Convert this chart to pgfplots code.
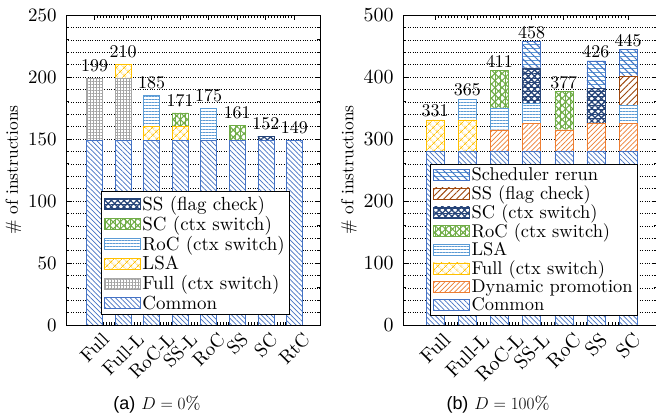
\documentclass[border=0pt]{standalone}
\usepackage{fontspec}
\usepackage{graphicx}
\usepackage{pgfplots}
\usepackage{pgfplotstable}
\pgfplotsset{compat=1.18}
\usetikzlibrary{patterns.meta}
\setmainfont{lmroman10-regular.otf}[ItalicFont=lmroman10-italic.otf, BoldFont=lmroman10-bold.otf]
\newfontfamily\capsf{Liberation Sans}

\definecolor{cblue}{RGB}{68,114,196}
\definecolor{corange}{RGB}{237,125,49}
\definecolor{cyellow}{RGB}{255,192,0}
\definecolor{cgray}{RGB}{165,165,165}
\definecolor{clblue}{RGB}{91,155,213}
\definecolor{cgreen}{RGB}{112,173,71}
\definecolor{cnavy}{RGB}{38,68,120}
\definecolor{cbrown}{RGB}{158,72,14}

\tikzset{
  pcom/.style={draw=cblue, fill=white, postaction={pattern={Lines[angle=-45,distance=3.5bp,line width=0.7bp]}, pattern color=cblue}},
  pdyn/.style={draw=corange, fill=white, postaction={pattern={Lines[angle=45,distance=3.5bp,line width=0.7bp]}, pattern color=corange}},
  pgrid/.style={draw=cgray, fill=white, postaction={pattern={Hatch[angle=0,distance=3bp,line width=0.5bp]}, pattern color=cgray}},
  pyel/.style={draw=cyellow, fill=white, postaction={pattern={Hatch[angle=45,distance=6bp,line width=1bp]}, pattern color=cyellow}},
  phor/.style={draw=clblue, fill=white, postaction={pattern={Lines[angle=0,distance=3bp,line width=0.8bp]}, pattern color=clblue}},
  pgreen/.style={draw=cgreen, fill=white, postaction={pattern={Hatch[angle=45,distance=5bp,line width=1.1bp]}, pattern color=cgreen}, postaction={pattern={Lines[angle=90,distance=5bp,line width=0.8bp]}, pattern color=cgreen}},
  pnavy/.style={draw=cnavy, fill=white, postaction={pattern={Hatch[angle=45,distance=4.5bp,line width=1.3bp]}, pattern color=cnavy}, postaction={pattern={Lines[angle=0,distance=4.5bp,line width=0.8bp]}, pattern color=cnavy}},
  pbrown/.style={draw=cbrown, fill=white, postaction={pattern={Lines[angle=45,distance=4.5bp,line width=0.9bp]}, pattern color=cbrown}},
  psched/.style={draw=cblue, fill=white, postaction={pattern={Lines[angle=0,distance=4bp,line width=0.8bp]}, pattern color=clblue}, postaction={pattern={Lines[angle=-45,distance=5bp,line width=1bp]}, pattern color=cblue}},
}

\pgfplotsset{
  mystack/.style={
    ybar stacked,
    scale only axis,
    height=310bp,
    width=254bp,
    anchor=south west,
    xtick=data,
    minor x tick num=9,
    ymin=0,
    minor y tick num=4,
    ymajorgrids, yminorgrids,
    major grid style={dotted, black, line width=0.5bp},
    minor grid style={dotted, black, line width=0.5bp},
    major tick length=5bp,
    minor tick length=3bp,
    tick style={black, line width=0.6bp},
    axis line style={line width=0.8bp},
    /pgf/number format/assume math mode=true,
    label style={font=\fontsize{17.5}{20}\selectfont},
    yticklabel style={xshift=-6bp},
    xticklabel style={anchor=north, yshift=-3bp},
    ylabel={\# of instructions},
    every axis plot/.append style={legend image code/.code={\draw[##1] (0bp,-5.5bp) rectangle (36bp,5.5bp);}},
    legend cell align=left,
    reverse legend,
    legend style={draw=black, fill=white, line width=0.6bp, anchor=south east},
  },
  labelaxis/.style={
    scale only axis,
    height=310bp,
    width=254bp,
    anchor=south west,
    ymin=0,
    hide axis,
    /pgf/number format/assume math mode=true,
  },
}

\pgfplotstableread{
x com full lsa roc sc ss tot
0 149 50 0 0 0 0 199
1 149 50 11 0 0 0 210
2 149 0 11 25 0 0 185
3 149 0 11 0 11 0 171
4 149 0 0 26 0 0 175
5 149 0 0 0 12 0 161
6 149 0 0 0 0 3 152
7 149 0 0 0 0 0 149
}\dataA

\pgfplotstableread{
x com dyn full lsa roc sc ss sch tot
0 280 0 51 0 0 0 0 0 331
1 280 0 51 34 0 0 0 0 365
2 280 35 0 35 61 0 0 0 411
3 280 45 0 32 0 58 0 43 458
4 280 35 0 0 62 0 0 0 377
5 280 45 0 0 0 57 0 44 426
6 280 45 0 29 0 0 47 44 445
}\dataB

\begin{document}
\begin{tikzpicture}
\path[use as bounding box] (0,0) rectangle (656bp,420bp);

\begin{axis}[
  mystack,
  at={(66bp,95bp)},
  bar width=16bp,
  xmin=-1, xmax=7.9,
  ymax=250,
  ytick={0,50,100,150,200,250},
  xticklabels={\rotatebox{45}{Full},\rotatebox{45}{Full-L},\rotatebox{45}{RoC-L},\rotatebox{45}{SS-L},\rotatebox{45}{RoC},\rotatebox{45}{SS},\rotatebox{45}{SC},\rotatebox{45}{RtC}},
  tick label style={font=\fontsize{19}{20}\selectfont},
  legend style={at={(0.882,0.032)}, font=\fontsize{19}{20}\selectfont, nodes={inner ysep=2.2bp}},
]
\addplot[pcom] table[x=x,y=com]{\dataA};
\addlegendentry{Common}
\addplot[pgrid] table[x=x,y=full]{\dataA};
\addlegendentry{Full (ctx switch)}
\addplot[pyel] table[x=x,y=lsa]{\dataA};
\addlegendentry{LSA}
\addplot[phor] table[x=x,y=roc]{\dataA};
\addlegendentry{RoC (ctx switch)}
\addplot[pgreen] table[x=x,y=sc]{\dataA};
\addlegendentry{SC (ctx switch)}
\addplot[pnavy] table[x=x,y=ss]{\dataA};
\addlegendentry{SS (flag check)}
\end{axis}

\begin{axis}[
  labelaxis,
  at={(66bp,95bp)},
  xmin=-1, xmax=7.9, ymax=250,
]
\addplot[draw=none, mark=none, nodes near coords, point meta=explicit,
  nodes near coords style={font=\fontsize{18}{20}\selectfont, black, anchor=south, yshift=3bp}]
  table[x=x,y=tot,meta=tot]{\dataA};
\end{axis}

\begin{axis}[
  mystack,
  at={(403bp,95bp)},
  bar width=18bp,
  xmin=-1, xmax=6.9,
  ymax=500,
  ytick={0,100,200,300,400,500},
  xticklabels={\rotatebox{45}{Full},\rotatebox{45}{Full-L},\rotatebox{45}{RoC-L},\rotatebox{45}{SS-L},\rotatebox{45}{RoC},\rotatebox{45}{SS},\rotatebox{45}{SC}},
  tick label style={font=\fontsize{20}{20}\selectfont},
  legend style={at={(0.925,0.029)}, font=\fontsize{18.5}{20}\selectfont, nodes={inner ysep=1.8bp}},
]
\addplot[pcom] table[x=x,y=com]{\dataB};
\addlegendentry{Common}
\addplot[pdyn] table[x=x,y=dyn]{\dataB};
\addlegendentry{Dynamic promotion}
\addplot[pyel] table[x=x,y=full]{\dataB};
\addlegendentry{Full (ctx switch)}
\addplot[phor] table[x=x,y=lsa]{\dataB};
\addlegendentry{LSA}
\addplot[pgreen] table[x=x,y=roc]{\dataB};
\addlegendentry{RoC (ctx switch)}
\addplot[pnavy] table[x=x,y=sc]{\dataB};
\addlegendentry{SC (ctx switch)}
\addplot[pbrown] table[x=x,y=ss]{\dataB};
\addlegendentry{SS (flag check)}
\addplot[psched] table[x=x,y=sch]{\dataB};
\addlegendentry{Scheduler rerun}
\end{axis}

\begin{axis}[
  labelaxis,
  at={(403bp,95bp)},
  xmin=-1, xmax=6.9, ymax=500,
]
\addplot[draw=none, mark=none, nodes near coords, point meta=explicit,
  nodes near coords style={font=\fontsize{18}{20}\selectfont, black, anchor=south, yshift=-1bp}]
  table[x=x,y=tot,meta=tot]{\dataB};
\end{axis}

\node[font=\fontsize{18}{20}\selectfont] at (157bp,15bp) {{\capsf (a)} $D = 0\%$};
\node[font=\fontsize{18}{20}\selectfont] at (498bp,15bp) {{\capsf (b)} $D = 100\%$};
\end{tikzpicture}
\end{document}
